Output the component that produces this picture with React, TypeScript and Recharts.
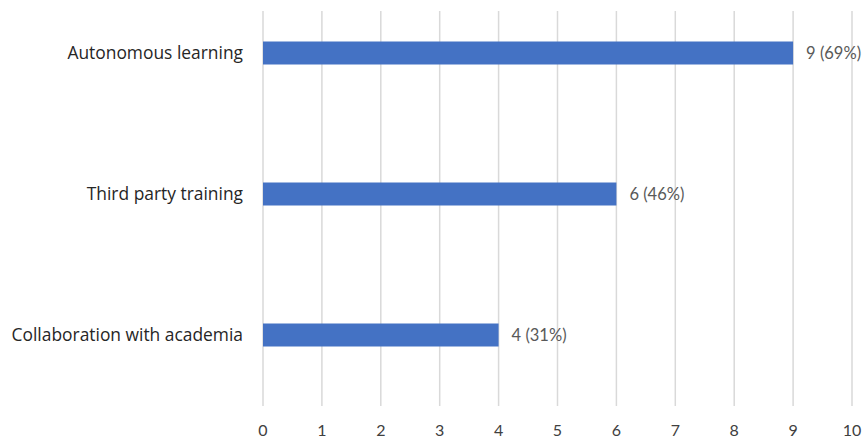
import { BarChart, Bar, XAxis, YAxis, CartesianGrid, LabelList } from 'recharts'

const categories = ['Autonomous learning', 'Third party training', 'Collaboration with academia']
const counts = [9, 6, 4]
const shares = [69, 46, 31]
const xTicks = [0, 1, 2, 3, 4, 5, 6, 7, 8, 9, 10]

const data = categories.map((name, i) => ({ name, count: counts[i], share: shares[i] }))

const font = 'Lato, "Noto Sans", sans-serif'
const catFont = '"Open Sans", "Noto Sans", sans-serif'

export default function App() {
  return (
    <div style={{ position: 'absolute', left: 0, top: 0, width: 866, height: 441, background: '#fff' }}>
      <BarChart
        width={866}
        height={441}
        data={data}
        layout="vertical"
        margin={{ top: 11, right: 14, bottom: 0, left: 0 }}
      >
        <CartesianGrid horizontal={false} stroke="#d9d9d9" strokeWidth={1.5} />
        <XAxis
          type="number"
          domain={[0, 10]}
          ticks={xTicks}
          axisLine={false}
          tickLine={false}
          tickSize={0}
          tickMargin={19}
          height={35}
          tick={{ fontSize: 16, fill: '#404040', fontFamily: font }}
        />
        <YAxis
          type="category"
          dataKey="name"
          width={263}
          axisLine={false}
          tickLine={false}
          tickSize={0}
          tickMargin={20}
          padding={{ top: -28.5, bottom: 0.5 }}
          tick={{ fontSize: 17.4, fill: '#262626', fontFamily: catFont }}
        />
        <Bar dataKey="count" fill="#4472c4" barSize={23} isAnimationActive={false}>
          <LabelList
            dataKey="count"
            position="right"
            content={(p: any) => {
              const row = data[p.index]
              return (
                <text
                  x={p.x + p.width + 13}
                  y={p.y + p.height / 2}
                  dy="0.35em"
                  fontSize={16.5}
                  fill="#595959"
                  fontFamily={font}
                >
                  {`${row.count} (${row.share}%)`}
                </text>
              )
            }}
          />
        </Bar>
      </BarChart>
    </div>
  )
}
